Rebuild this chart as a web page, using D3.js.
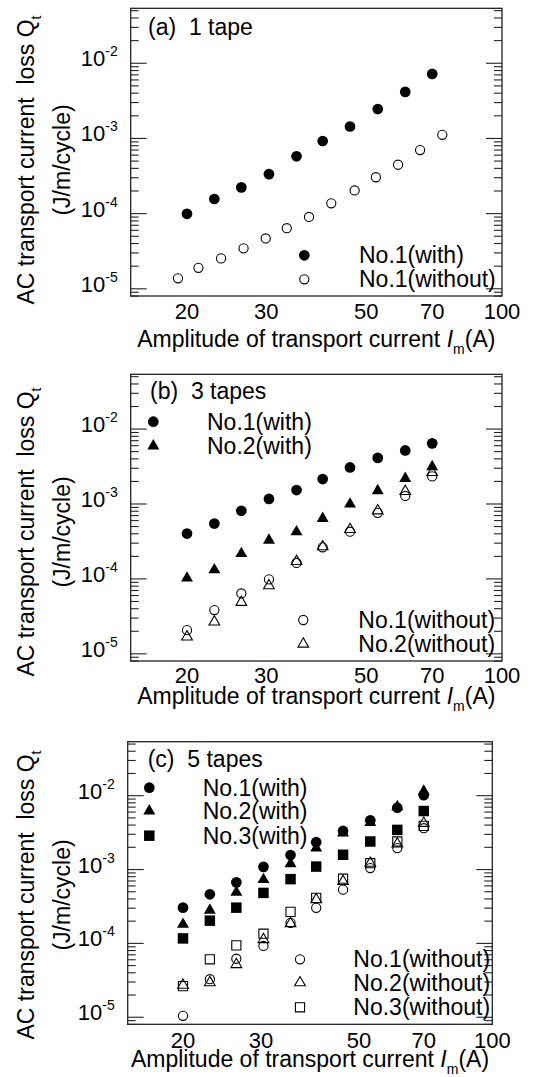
<!DOCTYPE html>
<html>
<head>
<meta charset="utf-8">
<script src="https://cdn.jsdelivr.net/npm/d3@7"></script>
<style>
body { margin: 0; background: #fff; }
text { font-family: "Liberation Sans", Arial, sans-serif; fill: #000; }
</style>
</head>
<body>
<div id="chart"></div>
<script>
// Amplitude of transport current (A)
const currentWith = [20, 23, 26.4, 30.4, 35, 40, 46, 53, 61, 70];
const currentA_without = [19.1, 21.2, 23.8, 26.7, 29.9, 33.3, 37.3, 41.8, 47.1, 52.5, 58.8, 65.8, 73.7];

// (a) 1 tape  -- loss Qt (J/m/cycle)
const a_no1With = [9.8e-5, 1.54e-4, 2.2e-4, 3.3e-4, 5.7e-4, 9.1e-4, 1.42e-3, 2.42e-3, 4.1e-3, 7.1e-3];
const a_no1Without = [1.36e-5, 1.87e-5, 2.5e-5, 3.4e-5, 4.6e-5, 6.3e-5, 8.9e-5, 1.35e-4, 2.0e-4, 3.0e-4, 4.4e-4, 6.9e-4, 1.1e-3];

// (b) 3 tapes
const b_no1With = [3.97e-4, 5.4e-4, 8.0e-4, 1.15e-3, 1.51e-3, 2.12e-3, 3.03e-3, 4.06e-3, 5.1e-3, 6.35e-3];
const b_no2With = [1.01e-4, 1.3e-4, 2.14e-4, 3.23e-4, 4.18e-4, 6.3e-4, 9.8e-4, 1.48e-3, 2.16e-3, 3.1e-3];
const b_no1Without = [2.04e-5, 3.78e-5, 6.3e-5, 9.7e-5, 1.61e-4, 2.6e-4, 4.2e-4, 7.5e-4, 1.26e-3, 2.3e-3];
const b_no2Without = [1.66e-5, 2.63e-5, 4.8e-5, 8.0e-5, 1.69e-4, 2.65e-4, 4.5e-4, 8.0e-4, 1.45e-3, 2.6e-3];

// (c) 5 tapes
const c_no1With = [3.0e-4, 4.55e-4, 6.6e-4, 1.07e-3, 1.55e-3, 2.31e-3, 3.28e-3, 4.57e-3, 6.76e-3, 1.0e-2];
const c_no2With = [1.78e-4, 2.77e-4, 4.84e-4, 7.2e-4, 1.18e-3, 1.92e-3, 3.06e-3, 4.25e-3, 6.98e-3, 1.13e-2];
const c_no3With = [1.15e-4, 2.0e-4, 3.0e-4, 4.75e-4, 7.3e-4, 1.08e-3, 1.56e-3, 2.36e-3, 3.39e-3, 6.1e-3];
const c_no1Without = [1.03e-5, 3.22e-5, 6.1e-5, 9.1e-5, 1.87e-4, 2.98e-4, 5.26e-4, 1.03e-3, 1.92e-3, 3.57e-3];
const c_no2Without = [2.68e-5, 2.9e-5, 5.1e-5, 1.11e-4, 1.83e-4, 3.85e-4, 6.8e-4, 1.2e-3, 2.19e-3, 4.17e-3];
const c_no3Without = [2.6e-5, 6.0e-5, 9.25e-5, 1.33e-4, 2.63e-4, 4.07e-4, 7.4e-4, 1.2e-3, 2.36e-3, 3.84e-3];

// axes
const xDomain = [15, 100];
const yDomain = [7.9e-6, 5.3e-2];
const xTickValues = [20, 30, 50, 70, 100];
const yMajorExponents = [-2, -3, -4, -5];

const W = 547, H = 1077;

// marker styles
const marker = {
    circleFilled:   { type: d3.symbolCircle,   size: 90, fill: "#000", stroke: "none" },
    triangleFilled: { type: d3.symbolTriangle, size: 62, fill: "#000", stroke: "none" },
    squareFilled:   { type: d3.symbolSquare,   size: 110, fill: "#000", stroke: "none" },
    circleOpen:     { type: d3.symbolCircle,   size: 66, fill: "none", stroke: "#000" },
    triangleOpen:   { type: d3.symbolTriangle, size: 50, fill: "none", stroke: "#000" },
    squareOpen:     { type: d3.symbolSquare,   size: 84, fill: "none", stroke: "#000" }
};

const panels = [
    {
        title: "(a)  1 tape", titleX: 148, titleY: 35,
        left: 130.7, right: 502, top: 8.3, bottom: 296,
        yLabelCenter: 160, tickBase: 319, xLabelBase: 347,
        series: [
            { name: "No.1(with)", x: currentWith, y: a_no1With, m: "circleFilled" },
            { name: "No.1(without)", x: currentA_without, y: a_no1Without, m: "circleOpen" }
        ],
        legends: [
            { mx: 304.3, tx: 359, ys: [255.3, 279.3], items: [0, 1] }
        ]
    },
    {
        title: "(b)  3 tapes", titleX: 150, titleY: 399,
        left: 130.7, right: 502, top: 374.3, bottom: 661,
        yLabelCenter: 532, tickBase: 682.5, xLabelBase: 704,
        series: [
            { name: "No.1(with)", x: currentWith, y: b_no1With, m: "circleFilled" },
            { name: "No.2(with)", x: currentWith, y: b_no2With, m: "triangleFilled" },
            { name: "No.1(without)", x: currentWith, y: b_no1Without, m: "circleOpen" },
            { name: "No.2(without)", x: currentWith, y: b_no2Without, m: "triangleOpen" }
        ],
        legends: [
            { mx: 153.3, tx: 207, ys: [421.7, 446], items: [0, 1] },
            { mx: 303.3, tx: 358.3, ys: [620, 644], items: [2, 3] }
        ]
    },
    {
        title: "(c)  5 tapes", titleX: 147.7, titleY: 766.5,
        left: 127.7, right: 492.3, top: 741.7, bottom: 1024.3,
        yLabelCenter: 895, tickBase: 1047.5, xLabelBase: 1067,
        series: [
            { name: "No.1(with)", x: currentWith, y: c_no1With, m: "circleFilled" },
            { name: "No.2(with)", x: currentWith, y: c_no2With, m: "triangleFilled" },
            { name: "No.3(with)", x: currentWith, y: c_no3With, m: "squareFilled" },
            { name: "No.1(without)", x: currentWith, y: c_no1Without, m: "circleOpen" },
            { name: "No.2(without)", x: currentWith, y: c_no2Without, m: "triangleOpen" },
            { name: "No.3(without)", x: currentWith, y: c_no3Without, m: "squareOpen" }
        ],
        legends: [
            { mx: 149.3, tx: 202.7, ys: [787.7, 811, 835.7], items: [0, 1, 2] },
            { mx: 300, tx: 353.3, ys: [959.3, 982.7, 1007.3], items: [3, 4, 5] }
        ]
    }
];

const svg = d3.select("#chart").append("svg")
    .attr("width", W)
    .attr("height", H);

// minor / major tick values over the y domain
const yMinor = [];
for (let e = -6; e <= -1; e++) {
    for (let k = 2; k <= 9; k++) {
        const v = k * Math.pow(10, e);
        if (v >= yDomain[0] && v <= yDomain[1]) yMinor.push(v);
    }
}
const yMajor = yMajorExponents.map(e => Math.pow(10, e));

function drawMarker(g, m, cx, cy) {
    const s = marker[m];
    g.append("path")
        .attr("d", d3.symbol().type(s.type).size(s.size)())
        .attr("transform", "translate(" + cx + "," + cy + ")")
        .attr("fill", s.fill)
        .attr("stroke", s.stroke)
        .attr("stroke-width", 1.1);
}

panels.forEach(p => {
    const x = d3.scaleLog().domain(xDomain).range([p.left, p.right]);
    const y = d3.scaleLog().domain(yDomain).range([p.bottom, p.top]);
    const g = svg.append("g");

    // ticks, left and right, pointing inward
    const axes = [
        { ax: d3.axisLeft(y).tickValues(yMinor).tickSize(-8), at: p.left },
        { ax: d3.axisLeft(y).tickValues(yMajor).tickSize(-16), at: p.left },
        { ax: d3.axisRight(y).tickValues(yMinor).tickSize(-8), at: p.right },
        { ax: d3.axisRight(y).tickValues(yMajor).tickSize(-16), at: p.right }
    ];
    axes.forEach(a => {
        const ag = g.append("g")
            .attr("transform", "translate(" + a.at + ",0)")
            .call(a.ax.tickFormat(""));
        ag.select(".domain").remove();
        ag.selectAll("line").attr("stroke", "#222").attr("stroke-width", 1.1);
    });

    // frame
    g.append("rect")
        .attr("x", p.left).attr("y", p.top)
        .attr("width", p.right - p.left).attr("height", p.bottom - p.top)
        .attr("fill", "none")
        .attr("stroke", "#222")
        .attr("stroke-width", 1.3);

    // y tick labels 10^n
    yMajorExponents.forEach(e => {
        const t = g.append("text")
            .attr("x", p.left - 13)
            .attr("y", y(Math.pow(10, e)) + 3.5)
            .attr("text-anchor", "end")
            .style("font-size", "22px");
        t.append("tspan").text("10");
        t.append("tspan").attr("dy", -10).style("font-size", "14px").text(String(e));
    });

    // x tick labels
    g.selectAll(".xt").data(xTickValues).enter().append("text")
        .attr("x", d => x(d))
        .attr("y", p.tickBase)
        .attr("text-anchor", "middle")
        .style("font-size", "22px")
        .text(d => d);

    // x label
    const xl = g.append("text")
        .attr("x", (p.left + p.right) / 2)
        .attr("y", p.xLabelBase)
        .attr("text-anchor", "middle")
        .style("font-size", "23px");
    xl.append("tspan").text("Amplitude of transport current ");
    xl.append("tspan").style("font-style", "italic").text("I");
    xl.append("tspan").attr("dy", 7).style("font-size", "14px").text("m");
    xl.append("tspan").attr("dy", -7).text("(A)");

    // y label, two lines
    const yl = g.append("text")
        .attr("transform", "translate(34," + p.yLabelCenter + ")rotate(-90)")
        .attr("text-anchor", "middle")
        .style("font-size", "23px")
        .style("white-space", "pre");
    yl.append("tspan").text("AC transport current  loss Q");
    yl.append("tspan").attr("dy", 7).style("font-size", "14px").text("t");

    g.append("text")
        .attr("transform", "translate(70," + p.yLabelCenter + ")rotate(-90)")
        .attr("text-anchor", "middle")
        .style("font-size", "23px")
        .text("(J/m/cycle)");

    // title
    g.append("text")
        .attr("x", p.titleX)
        .attr("y", p.titleY)
        .style("font-size", "23px")
        .style("white-space", "pre")
        .text(p.title);

    // data: open markers first, filled on top
    const order = p.series.slice().sort((a, b) => (marker[a.m].fill === "none" ? 0 : 1) - (marker[b.m].fill === "none" ? 0 : 1));
    order.forEach(s => {
        s.y.forEach((v, i) => drawMarker(g, s.m, x(s.x[i]), y(v)));
    });

    // legends
    p.legends.forEach(l => {
        l.items.forEach((idx, j) => {
            const s = p.series[idx];
            drawMarker(g, s.m, l.mx, l.ys[j]);
            g.append("text")
                .attr("x", l.tx)
                .attr("y", l.ys[j] + 8)
                .style("font-size", "23px")
                .text(s.name);
        });
    });
});
</script>
</body>
</html>
